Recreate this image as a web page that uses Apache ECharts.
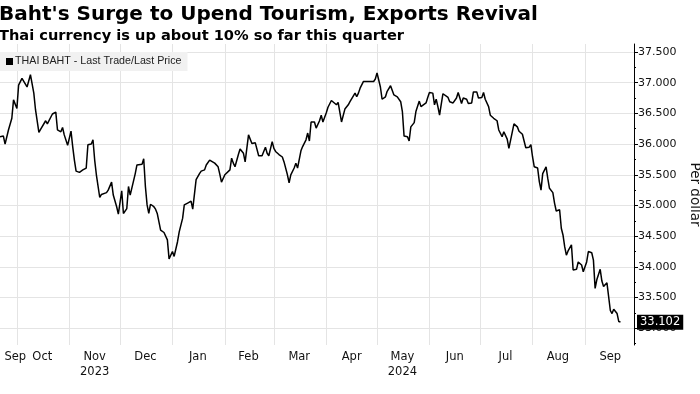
<!DOCTYPE html>
<html><head><meta charset="utf-8">
<script src="https://cdn.jsdelivr.net/npm/echarts@6/dist/echarts.min.js"></script>
<style>html,body{margin:0;padding:0;background:#fff}#c{width:700px;height:394px}</style>
</head><body><div id="c"></div>
<script>
const seriesName = 'THAI BAHT - Last Trade/Last Price';
const dates = [
'2023-09-21','2023-09-23','2023-09-24','2023-09-26','2023-09-28','2023-09-29','2023-10-01','2023-10-02','2023-10-04','2023-10-05',
'2023-10-07','2023-10-08','2023-10-09','2023-10-11','2023-10-12','2023-10-14','2023-10-15','2023-10-16','2023-10-18','2023-10-19',
'2023-10-20','2023-10-22','2023-10-24','2023-10-25','2023-10-27','2023-10-28','2023-10-29','2023-10-31','2023-11-01','2023-11-02',
'2023-11-03','2023-11-04','2023-11-05','2023-11-07','2023-11-09','2023-11-11','2023-11-12','2023-11-14','2023-11-15','2023-11-16',
'2023-11-17','2023-11-18','2023-11-19','2023-11-20','2023-11-23','2023-11-24','2023-11-26','2023-11-27','2023-11-29','2023-11-30',
'2023-12-02','2023-12-03','2023-12-05','2023-12-06','2023-12-07','2023-12-08','2023-12-10','2023-12-11','2023-12-12','2023-12-14',
'2023-12-15','2023-12-16','2023-12-17','2023-12-18','2023-12-19','2023-12-21','2023-12-22','2023-12-23','2023-12-25','2023-12-26',
'2023-12-27','2023-12-29','2023-12-30','2024-01-01','2024-01-02','2024-01-04','2024-01-05','2024-01-07','2024-01-08','2024-01-09',
'2024-01-10','2024-01-12','2024-01-13','2024-01-14','2024-01-15','2024-01-17','2024-01-18','2024-01-20','2024-01-21','2024-01-23',
'2024-01-24','2024-01-26','2024-01-28','2024-01-29','2024-01-30','2024-02-01','2024-02-02','2024-02-04','2024-02-05','2024-02-06',
'2024-02-07','2024-02-09','2024-02-10','2024-02-12','2024-02-13','2024-02-15','2024-02-16','2024-02-17','2024-02-19','2024-02-20',
'2024-02-21','2024-02-23','2024-02-25','2024-02-26','2024-02-27','2024-02-29','2024-03-01','2024-03-02','2024-03-04','2024-03-06',
'2024-03-07','2024-03-09','2024-03-10','2024-03-11','2024-03-13','2024-03-14','2024-03-15','2024-03-17','2024-03-18','2024-03-20',
'2024-03-21','2024-03-22','2024-03-23','2024-03-25','2024-03-26','2024-03-28','2024-03-29','2024-03-30','2024-04-01','2024-04-02',
'2024-04-04','2024-04-05','2024-04-07','2024-04-08','2024-04-10','2024-04-11','2024-04-12','2024-04-14','2024-04-15','2024-04-16',
'2024-04-18','2024-04-19','2024-04-20','2024-04-21','2024-04-23','2024-04-24','2024-04-25','2024-04-27','2024-04-29','2024-04-30',
'2024-05-01','2024-05-03','2024-05-04','2024-05-06','2024-05-07','2024-05-09','2024-05-10','2024-05-11','2024-05-13','2024-05-14',
'2024-05-15','2024-05-16','2024-05-17','2024-05-19','2024-05-20','2024-05-21','2024-05-23','2024-05-24','2024-05-26','2024-05-27',
'2024-05-28','2024-05-30','2024-05-31','2024-06-01','2024-06-03','2024-06-04','2024-06-05','2024-06-06','2024-06-07','2024-06-08',
'2024-06-09','2024-06-10','2024-06-12','2024-06-13','2024-06-15','2024-06-17','2024-06-18','2024-06-20','2024-06-21','2024-06-23',
'2024-06-24','2024-06-26','2024-06-27','2024-06-29','2024-06-30','2024-07-02','2024-07-03','2024-07-04','2024-07-06','2024-07-07',
'2024-07-09','2024-07-11','2024-07-12','2024-07-14','2024-07-15','2024-07-17','2024-07-18','2024-07-19','2024-07-21','2024-07-23',
'2024-07-24','2024-07-26','2024-07-27','2024-07-28','2024-07-30','2024-07-31','2024-08-01','2024-08-02','2024-08-04','2024-08-05',
'2024-08-06','2024-08-07','2024-08-09','2024-08-10','2024-08-11','2024-08-12','2024-08-13','2024-08-14','2024-08-15','2024-08-17',
'2024-08-18','2024-08-19','2024-08-20','2024-08-21','2024-08-22','2024-08-24','2024-08-25','2024-08-27','2024-08-28','2024-08-30',
'2024-08-31','2024-09-02','2024-09-03','2024-09-05','2024-09-06','2024-09-07','2024-09-08','2024-09-10','2024-09-11','2024-09-12',
'2024-09-14','2024-09-16','2024-09-17','2024-09-18','2024-09-20','2024-09-21','2024-09-22'
];
const values = [
36.12,36.13,36.00,36.23,36.42,36.72,36.58,36.96,37.07,37.04,
36.93,36.92,37.13,36.83,36.56,36.19,36.24,36.27,36.38,36.33,
36.34,36.49,36.52,36.23,36.20,36.27,36.15,35.98,35.97,36.21,
35.96,35.74,35.56,35.54,35.58,35.61,35.99,36.00,36.07,35.74,
35.50,35.47,35.13,35.18,35.21,35.25,35.38,35.17,34.98,34.86,
35.24,34.87,34.95,35.31,35.17,35.18,35.52,35.66,35.67,35.67,
35.76,35.31,35.01,34.87,35.02,34.98,34.94,34.87,34.60,34.58,
34.56,34.44,34.13,34.25,34.17,34.41,34.57,34.79,35.01,34.99,
35.04,35.07,34.94,34.95,35.42,35.52,35.56,35.58,35.66,35.74,
35.71,35.69,35.63,35.51,35.38,35.50,35.51,35.58,35.77,35.69,
35.63,35.83,35.92,35.85,35.71,36.15,36.13,36.01,36.02,36.04,
35.81,35.81,35.95,35.85,35.81,36.04,35.93,35.88,35.83,35.79,
35.71,35.50,35.37,35.50,35.61,35.69,35.61,35.89,35.96,36.07,
36.18,36.05,36.36,36.36,36.26,36.38,36.47,36.36,36.51,36.60,
36.71,36.71,36.64,36.68,36.36,36.36,36.57,36.64,36.69,36.67,
36.83,36.77,36.83,36.91,37.02,37.04,37.02,37.02,37.02,37.06,
37.16,36.93,36.73,36.77,36.86,36.95,36.92,36.80,36.77,36.80,
36.69,36.53,36.13,36.12,36.05,36.28,36.35,36.53,36.70,36.61,
36.61,36.67,36.76,36.84,36.83,36.64,36.73,36.61,36.47,36.65,
36.82,36.80,36.76,36.69,36.67,36.75,36.84,36.66,36.75,36.73,
36.66,36.67,36.85,36.85,36.75,36.76,36.84,36.73,36.61,36.47,
36.42,36.38,36.23,36.12,36.20,36.08,35.93,35.96,36.33,36.28,
36.21,36.16,36.13,35.94,35.95,35.99,35.79,35.63,35.61,35.39,
35.25,35.52,35.63,35.44,35.28,35.27,35.21,35.04,34.91,34.93,
34.63,34.52,34.33,34.19,34.26,34.36,33.95,33.96,34.08,34.03,
33.92,34.08,34.25,34.23,34.11,33.65,33.79,33.96,33.77,33.68,
33.74,33.29,33.24,33.31,33.24,33.11,33.102
];
const monthStarts = ['2023-10-01','2023-11-01','2023-12-01','2024-01-01','2024-02-01','2024-03-01','2024-04-01','2024-05-01','2024-06-01','2024-07-01','2024-08-01','2024-09-01'];
const labelDates = ['2023-09-30','2023-10-16','2023-11-16','2023-12-16','2024-01-16','2024-02-15','2024-03-16','2024-04-16','2024-05-16','2024-06-16','2024-07-16','2024-08-16','2024-09-16'];
const labelTexts = ['Sep','Oct','Nov\n2023','Dec','Jan','Feb','Mar','Apr','May\n2024','Jun','Jul','Aug','Sep'];
const yTickValues = [33,33.5,34,34.5,35,35.5,36,36.5,37,37.5];
const yMinorTickValues = [32.75,33.25,33.75,34.25,34.75,35.25,35.75,36.25,36.75,37.25];

function toTime(s){const p=s.split('-').map(Number);return Date.UTC(p[0],p[1]-1,p[2]);}
const labelTimes = labelDates.map(toTime);
const FONT = 'DejaVu Sans';
const lastValue = values[values.length-1];

const chart = echarts.init(document.getElementById('c'), null, {renderer:'canvas'});
chart.setOption({
  backgroundColor:'#fff',
  animation:false,
  title:{
    text:"Baht's Surge to Upend Tourism, Exports Revival",
    subtext:'Thai currency is up about 10% so far this quarter',
    left:-1, top:5, itemGap:4, padding:[0,0,0,0],
    textStyle:{fontFamily:FONT, fontSize:20, fontWeight:'bold', color:'#000'},
    subtextStyle:{fontFamily:FONT, fontSize:14.6, fontWeight:'bold', color:'#000'}
  },
  legend:{
    left:0, top:52, icon:'rect', itemWidth:7, itemHeight:7, itemGap:0,
    backgroundColor:'#f1f1f1', padding:[4,6,4,6],
    textStyle:{fontFamily:'Liberation Sans', fontSize:10.7, color:'#222', padding:[0,0,0,-3]},
    data:[{name:seriesName, itemStyle:{color:'#000'}}]
  },
  grid:{left:0, right:66, top:44, bottom:49, containLabel:false, outerBoundsMode:'none'},
  xAxis:{
    type:'value', min:toTime('2023-09-21'), max:toTime('2024-09-30'),
    axisLine:{show:false},
    axisTick:{show:false, customValues:monthStarts.map(toTime)},
    splitLine:{show:true, lineStyle:{color:'#e4e4e4', width:1}},
    axisLabel:{
      customValues:labelTimes, margin:5, fontFamily:FONT, fontSize:11.5, color:'#111', lineHeight:15,
      hideOverlap:false, showMinLabel:true, showMaxLabel:true,
      formatter:function(v){
        for(let i=0;i<labelTimes.length;i++){ if(Math.abs(labelTimes[i]-v)<43200000) return labelTexts[i]; }
        return '';
      }
    }
  },
  yAxis:[{
    type:'value', position:'right', min:32.728, max:37.63,
    name:'Per dollar', nameLocation:'middle', nameRotate:-90, nameGap:48,
    nameTextStyle:{fontFamily:FONT, fontSize:13.5, color:'#111'},
    axisLine:{show:true, lineStyle:{color:'#000', width:1}},
    axisTick:{show:true, inside:false, length:4, customValues:yTickValues, lineStyle:{color:'#000'}},
    axisLabel:{customValues:yTickValues, margin:4, fontFamily:FONT, fontSize:11, color:'#111',
      formatter:function(v){return Number(v).toFixed(3);}},
    splitLine:{show:true, lineStyle:{color:'#e4e4e4', width:1}}
  },{
    type:'value', position:'right', min:32.728, max:37.63,
    axisLine:{show:false},
    axisTick:{show:true, inside:false, length:2, customValues:yMinorTickValues, lineStyle:{color:'#000'}},
    axisLabel:{show:false}, splitLine:{show:false}
  }],
  series:[{
    name:seriesName, type:'line', showSymbol:false, symbol:'none',
    lineStyle:{color:'#000', width:1.5}, itemStyle:{color:'#000'},
    data:dates.map(function(d,i){return [toTime(d), values[i]];}),
    markLine:{
      silent:true, symbol:['none','none'],
      lineStyle:{color:'rgba(0,0,0,0)', width:0},
      data:[{yAxis:lastValue}],
      label:{position:'end', distance:3, formatter:function(){return lastValue.toFixed(3);},
        backgroundColor:'#000', color:'#fff', padding:[2,3,1,3], fontFamily:FONT, fontSize:11.5}
    }
  }]
});
</script></body></html>
